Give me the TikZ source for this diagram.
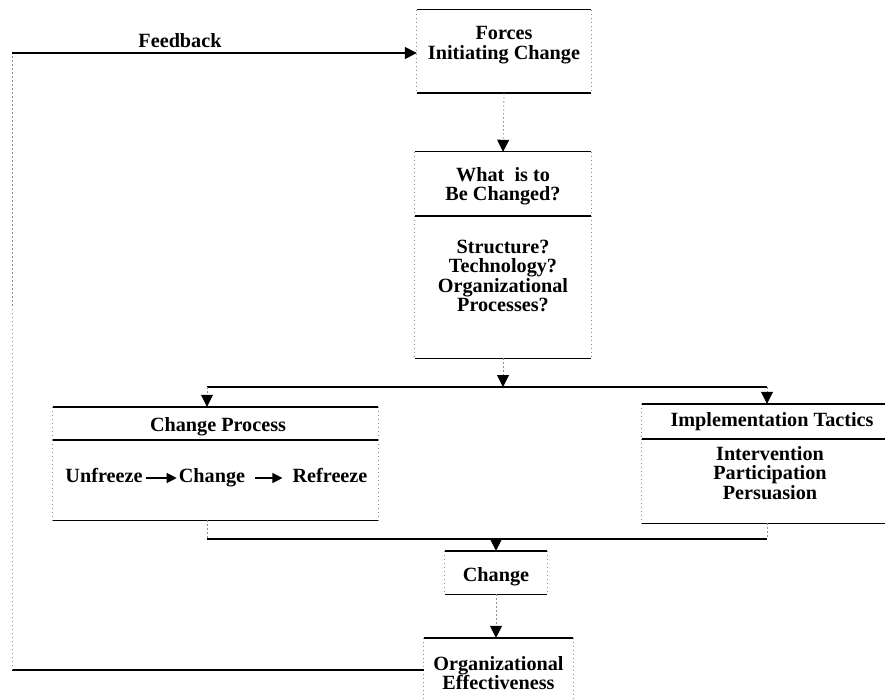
\documentclass[tikz,border=0pt]{standalone}
\usepackage{fontspec}
\setmainfont{Liberation Serif}
\usetikzlibrary{arrows.meta}

% box edges: solid rules top and bottom, faint dotted sides
\newcommand\panelframe[1]{%
  \draw[hrule] (#1.north west) -- (#1.north east) (#1.south west) -- (#1.south east);
  \draw[vrule] (#1.north west) -- (#1.south west) (#1.north east) -- (#1.south east);}

\tikzset{
  hrule/.style={line width=1.4pt, black},
  vrule/.style={line width=0.8pt, black!45, dash pattern=on 1.5pt off 2.5pt},
  tip/.style={-{Triangle[length=12pt,width=12pt,color=black]}},
  smalltip/.style={-{Triangle[length=10pt,width=10pt]}},
  box/.style={inner sep=0pt},
  txt/.style={font=\fontsize{20.2}{19.5}\selectfont\bfseries, align=center, inner sep=0pt},
}

\begin{document}
\begin{tikzpicture}[x=1pt, y=-1pt]
\useasboundingbox (0,0) rectangle (885,700);

% boxes
\node[box, minimum width=174pt, minimum height=83pt] (forces) at (504,51.5) {};
\node[box, minimum width=176pt, minimum height=64pt] (whatHead) at (503,184) {};
\node[box, minimum width=176pt, minimum height=142pt] (whatBody) at (503,287) {};
\node[box, minimum width=325pt, minimum height=33pt] (procHead) at (215.5,423.5) {};
\node[box, minimum width=325pt, minimum height=80pt] (procBody) at (215.5,480) {};
\node[box, minimum width=263pt, minimum height=35pt] (implHead) at (773.5,421.5) {};
\node[box, minimum width=263pt, minimum height=84pt] (implBody) at (773.5,481) {};
\node[box, minimum width=102pt, minimum height=43pt] (change) at (496,572.5) {};
\node[box, minimum width=149pt, minimum height=74pt] (org) at (498.5,675) {};

\foreach \b in {forces,whatHead,whatBody,procHead,procBody,implHead,implBody,change,org}
  {\panelframe{\b}}

% box texts
\node[txt] (forcesTxt) at (504,45) {Forces\\Initiating Change};
\node[txt] (whatTxt) at (503,186) {What\ \ is to\\Be Changed?};
\node[txt] (whatList) at (503,276) {Structure?\\Technology?\\Organizational\\Processes?};
\node[txt] (procTitle) at (218,427) {Change Process};
\node[txt, anchor=base] (unfreeze) at (104,482) {Unfreeze};
\node[txt, anchor=base] (chgStep) at (212,482) {Change};
\node[txt, anchor=base] (refreeze) at (330,482) {Refreeze};
\node[txt] (implTitle) at (772,422) {Implementation Tactics};
\node[txt] (implList) at (770,473) {Intervention\\Participation\\Persuasion};
\node[txt, anchor=base] (changeTxt) at (496,581) {Change};
\node[txt] (orgTxt) at (498.5,673) {Organizational\\Effectiveness};

% steps of the change process
\draw[line width=1.3pt, smalltip, shorten <=3pt, shorten >=2pt]
  ([yshift=4pt]unfreeze.base east) -- ([yshift=4pt]chgStep.base west);
\draw[line width=1.3pt, smalltip, shorten <=10pt, shorten >=10pt]
  ([yshift=4pt]chgStep.base east) -- ([yshift=4pt]refreeze.base west);

% junction points
\coordinate (splitL) at (207,387);
\coordinate (splitR) at (767,387);
\coordinate (joinL) at (207,539);
\coordinate (joinR) at (767,539);
\coordinate (fbBot) at (12,670);
\coordinate (fbTop) at (12,53);

% main flow
\draw[vrule, tip] (forces.south) -- (whatHead.north);
\draw[vrule, tip] (whatBody.south) -- (whatBody.south |- splitL);
\draw[hrule] (splitL) -- (splitR);
\draw[vrule, tip] (splitL) -- (splitL |- procHead.north);
\draw[vrule, tip] (splitR) -- (splitR |- implHead.north);
\draw[vrule] (joinL |- procBody.south) -- (joinL);
\draw[vrule] (joinR |- implBody.south) -- (joinR);
\draw[hrule] (joinL) -- (joinR);
\draw[vrule, tip] (change.north |- joinL) -- (change.north);
\draw[vrule, tip] (change.south) -- (change.south |- org.north);

% feedback loop
\draw[hrule] (org.west |- fbBot) -- (fbBot);
\draw[vrule] (fbBot) -- (fbTop);
\draw[hrule, tip] (fbTop) -- (forces.west |- fbTop);
\node[txt] (feedback) at (180,41) {Feedback};
\end{tikzpicture}
\end{document}
